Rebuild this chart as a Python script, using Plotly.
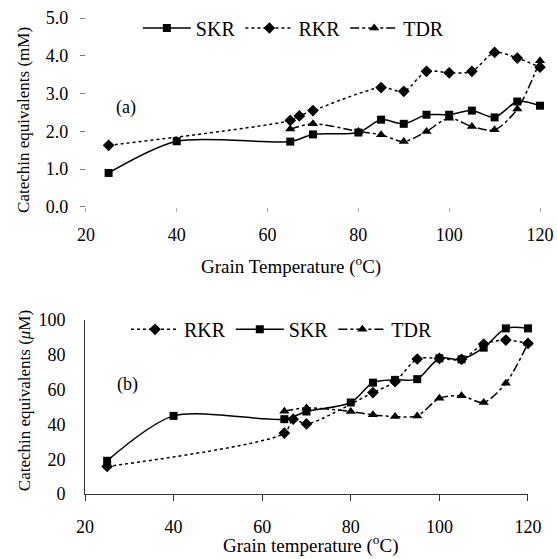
import plotly.graph_objects as go

# ---- data (a) ----
a_skr_x = [25, 40, 65, 70, 80, 85, 90, 95, 100, 105, 110, 115, 120]
a_skr_y = [0.90, 1.74, 1.73, 1.92, 1.97, 2.31, 2.20, 2.44, 2.44, 2.55, 2.37, 2.79, 2.68]
a_rkr_x = [25, 65, 67, 70, 85, 90, 95, 100, 105, 110, 115, 120]
a_rkr_y = [1.63, 2.29, 2.41, 2.55, 3.16, 3.06, 3.59, 3.55, 3.59, 4.09, 3.94, 3.70]
a_tdr_x = [65, 70, 80, 85, 90, 95, 100, 105, 110, 115, 120]
a_tdr_y = [2.06, 2.20, 2.00, 1.91, 1.73, 2.00, 2.35, 2.13, 2.04, 2.59, 3.87]

# ---- data (b) ----
b_rkr_x = [25, 65, 67, 70, 85, 90, 95, 100, 105, 110, 115, 120]
b_rkr_y = [15.8, 35.0, 43.0, 40.3, 58.3, 64.6, 77.6, 77.9, 77.4, 86.2, 88.5, 86.6]
b_skr_x = [25, 40, 65, 70, 80, 85, 90, 95, 100, 105, 110, 115, 120]
b_skr_y = [19.1, 44.9, 43.0, 47.4, 52.6, 64.0, 65.6, 66.0, 78.0, 77.4, 84.1, 95.2, 95.2]
b_tdr_x = [65, 70, 80, 85, 90, 95, 100, 105, 110, 115, 120]
b_tdr_y = [47.6, 49.5, 47.4, 45.5, 44.5, 44.9, 55.0, 56.4, 52.6, 63.7, 86.6]

a_yticks = [0, 1, 2, 3, 4, 5]
b_yticks = [0, 20, 40, 60, 80, 100]
xticks = [20, 40, 60, 80, 100, 120]

FONT = "Liberation Serif, Times New Roman, serif"
BLACK = "#000000"

fig = go.Figure()

def add(x, y, name, dash, symbol, msize, xa, ya, legend):
    fig.add_trace(go.Scatter(
        x=x, y=y, name=name, mode="lines+markers", cliponaxis=False,
        line=dict(color=BLACK, width=1.5, dash=dash, shape="spline", smoothing=0.8),
        marker=dict(symbol=symbol, size=msize, color=BLACK),
        xaxis=xa, yaxis=ya, legend=legend))

add(a_skr_x, a_skr_y, "SKR", "solid", "square", 8, "x", "y", "legend")
add(a_rkr_x, a_rkr_y, "RKR", "dot", "diamond", 9, "x", "y", "legend")
add(a_tdr_x, a_tdr_y, "TDR", "dashdot", "triangle-up", 9, "x", "y", "legend")
add(b_rkr_x, b_rkr_y, "RKR", "dot", "diamond", 9, "x2", "y2", "legend2")
add(b_skr_x, b_skr_y, "SKR", "solid", "square", 8, "x2", "y2", "legend2")
add(b_tdr_x, b_tdr_y, "TDR", "dashdot", "triangle-up", 9, "x2", "y2", "legend2")

tickfont = dict(family=FONT, size=18, color=BLACK)
xtitlefont = dict(family=FONT, size=19, color=BLACK)
ytitlefont = dict(family=FONT, size=17, color=BLACK)
legfont = dict(family=FONT, size=20, color=BLACK)

fig.update_layout(
    width=557, height=559,
    margin=dict(l=85, r=17, t=18, b=65, autoexpand=False),
    paper_bgcolor="white", plot_bgcolor="white",
    font=dict(family=FONT, size=17, color=BLACK),
    xaxis=dict(domain=[0.002, 1], range=[20, 120], tickvals=xticks, anchor="y",
               showgrid=False, zeroline=False, showline=False, automargin=False,
               ticks="outside", ticklen=4, tickcolor="#aaaaaa",
               tickfont=tickfont, ticklabelstandoff=7),
    yaxis=dict(domain=[0.603, 1.0], range=[0, 5], tickvals=a_yticks, anchor="x",
               tickformat=".1f", showgrid=False, zeroline=False, showline=False,
               automargin=False, ticks="outside", ticklen=5, tickcolor="#777777",
               tickfont=tickfont, ticklabelstandoff=8),
    xaxis2=dict(domain=[0, 0.9736], range=[20, 120], tickvals=xticks, anchor="y2",
                showgrid=False, zeroline=False, showline=True, linecolor="#333333", linewidth=1,
                automargin=False, ticks="outside", ticklen=6, tickcolor="#333333",
                tickfont=tickfont, ticklabelstandoff=10),
    yaxis2=dict(domain=[0, 0.3655], range=[0, 100], tickvals=b_yticks, anchor="x2",
                showgrid=False, zeroline=False, showline=True, linecolor="#333333", linewidth=1,
                automargin=False, ticks="", tickfont=tickfont, ticklabelstandoff=15),
    legend=dict(orientation="h", x=0.459, y=0.979, xanchor="center", yanchor="middle",
                font=legfont, itemwidth=48, bgcolor="rgba(0,0,0,0)"),
    legend2=dict(orientation="h", x=0.433, y=0.346, xanchor="center", yanchor="middle",
                 font=legfont, itemwidth=48, bgcolor="rgba(0,0,0,0)"),
    annotations=[
        dict(text="(a)", x=28.8, y=2.63, xref="x", yref="y", showarrow=False,
             font=dict(family=FONT, size=18, color=BLACK)),
        dict(text="(b)", x=29.5, y=63, xref="x2", yref="y2", showarrow=False,
             font=dict(family=FONT, size=18, color=BLACK)),
        dict(text="Grain Temperature (<sup>o</sup>C)", x=0.4527, y=0.481,
             xref="paper", yref="paper", showarrow=False, font=xtitlefont,
             xanchor="center", yanchor="middle"),
        dict(text="Grain temperature (<sup>o</sup>C)", x=0.4967, y=-0.107,
             xref="paper", yref="paper", showarrow=False, font=xtitlefont,
             xanchor="center", yanchor="middle"),
        dict(text="Catechin equivalents (mM)", x=-0.134, y=0.786, textangle=-90,
             xref="paper", yref="paper", showarrow=False, font=ytitlefont,
             xanchor="center", yanchor="middle"),
        dict(text="Catechin equivalents (<i>μ</i>M)", x=-0.134, y=0.195, textangle=-90,
             xref="paper", yref="paper", showarrow=False, font=ytitlefont,
             xanchor="center", yanchor="middle"),
    ],
)

fig.write_html("out.html", config={"displayModeBar": False},
               post_script="document.body.style.margin='0';document.body.style.overflow='hidden';")
